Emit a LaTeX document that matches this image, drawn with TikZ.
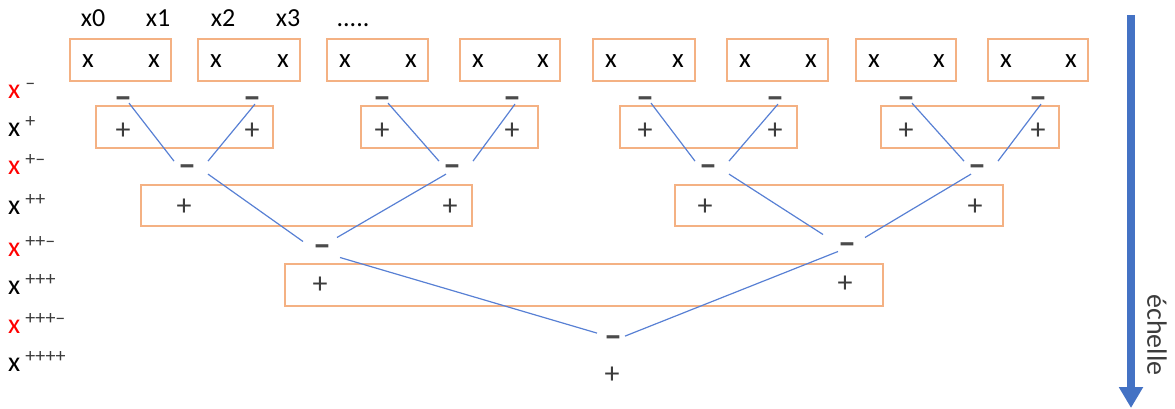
\documentclass[tikz,border=0pt]{standalone}
\usepackage{fontspec}
\setmainfont{Carlito}
\usetikzlibrary{arrows.meta}
\definecolor{boxorange}{RGB}{244,177,131}
\definecolor{lineblue}{RGB}{88,128,212}
\definecolor{arrowblue}{RGB}{68,114,196}
\definecolor{signgray}{RGB}{60,60,60}
\definecolor{minusgray}{RGB}{75,75,75}
\newcommand\mylab[2]{\textcolor{#1}{x}\hspace{5pt}\raisebox{9pt}{\fontsize{20}{20}\selectfont\textcolor{signgray}{#2}}}
\begin{document}
\begin{tikzpicture}[x=1pt,y=-1pt,
  box/.style={draw=boxorange, line width=1.3pt},
  conn/.style={draw=lineblue, line width=1.2pt},
  sign/.style={font=\fontsize{30}{30}\selectfont, text=signgray, inner sep=0pt},
  msign/.style={font=\fontsize{36}{36}\selectfont\bfseries, text=minusgray, inner sep=0pt},
  xl/.style={font=\fontsize{27}{27}\selectfont, inner sep=0pt},
  lab/.style={font=\fontsize{28}{28}\selectfont, inner sep=0pt, anchor=base west},
  top/.style={font=\fontsize{26}{26}\selectfont, inner sep=0pt, anchor=base}]
\useasboundingbox (0,0) rectangle (1175,409);

% top labels
\node[top] (t0) at (93,27) {x0};
\node[top] (t1) at (158,27) {x1};
\node[top] (t2) at (223,27) {x2};
\node[top] (t3) at (288,27) {x3};
\node[top] (t4) at (353,27) {.....};

% left labels
\node[lab] (l1) at (8,99) {\mylab{red}{–}};
\node[lab] (l2) at (8,136) {\mylab{black}{+}};
\node[lab] (l3) at (8,174) {\mylab{red}{+–}};
\node[lab] (l4) at (8,214) {\mylab{black}{++}};
\node[lab] (l5) at (8,256) {\mylab{red}{++–}};
\node[lab] (l6) at (8,294) {\mylab{black}{+++}};
\node[lab] (l7) at (8,333) {\mylab{red}{+++–}};
\node[lab] (l8) at (8,371) {\mylab{black}{++++}};

% row 1 boxes
\foreach \l/\r [count=\i] in {70/171,198/300,327/428,460/560,593/695,727/828,856/956,988/1088}{
  \draw[box] (\l,39) rectangle (\r,81);
  \node[xl] (xa\i) at (\l+18,61.5) {x};
  \node[xl] (xb\i) at (\r-17,61.5) {x};
}
% row 2 boxes
\draw[box] (96,106) rectangle (273,148);
\draw[box] (361,106) rectangle (538,148);
\draw[box] (620,106) rectangle (797,148);
\draw[box] (881,106) rectangle (1059,148);
% row 3 boxes
\draw[box] (141,185) rectangle (472,226);
\draw[box] (675,185) rectangle (1003,226);
% row 4 box
\draw[box] (285,264) rectangle (883,306);

% row 1 minus and row 2 plus
\foreach \x [count=\i] in {123,252,382,512,645,775,906,1038}{
  \node[msign] (a\i) at (\x,102.6) {–};
  \node[sign] (p\i) at (\x,131) {+};
}
% row 2 minus, row 3 plus
\foreach \x/\y [count=\i] in {187/184,452/450,708/705,977/975}{
  \node[msign] (b\i) at (\x,170.6) {–};
  \node[sign] (q\i) at (\y,207) {+};
}
% row 3 minus, row 4 plus
\node[msign] (c1) at (322,251) {–};
\node[msign] (c2) at (847,249) {–};
\node[sign] (r1) at (320,285) {+};
\node[sign] (r2) at (845,284) {+};
% final
\node[msign] (d1) at (613,341.6) {–};
\node[sign] (e1) at (612,375) {+};

% connectors level 1
\foreach \u/\v/\w in {1/2/1,3/4/2,5/6/3,7/8/4}{
  \draw[conn] ([shift={(6,0.5)}]a\u.center) -- ([shift={(-13,-9.5)}]b\w.center);
  \draw[conn] ([shift={(3,1.5)}]a\v.center) -- ([shift={(21,-9.5)}]b\w.center);
}
% level 2
\draw[conn] ([shift={(21,3.5)}]b1.center) -- ([shift={(-19,-9.5)}]c1.center);
\draw[conn] ([shift={(-6,3.5)}]b2.center) -- ([shift={(15,-13.5)}]c1.center);
\draw[conn] ([shift={(21,3.5)}]b3.center) -- ([shift={(-24,-14.5)}]c2.center);
\draw[conn] ([shift={(-6,3.5)}]b4.center) -- ([shift={(18,-11.5)}]c2.center);
% level 3
\draw[conn] ([shift={(18,6.5)}]c1.center) -- ([shift={(-16,-8.5)}]d1.center);
\draw[conn] ([shift={(-9,2.5)}]c2.center) -- ([shift={(12,-5.5)}]d1.center);

% scale arrow
\coordinate (s0) at (1131,15);
\coordinate (s1) at (1131,408);
\draw[arrowblue, line width=8pt, -{Triangle[width=23pt,length=21pt]}] (s0) -- (s1);
\node[rotate=-90, font=\fontsize{28}{28}\selectfont, text=signgray, inner sep=0pt] (ech) at (1157,335) {échelle};
\end{tikzpicture}
\end{document}
